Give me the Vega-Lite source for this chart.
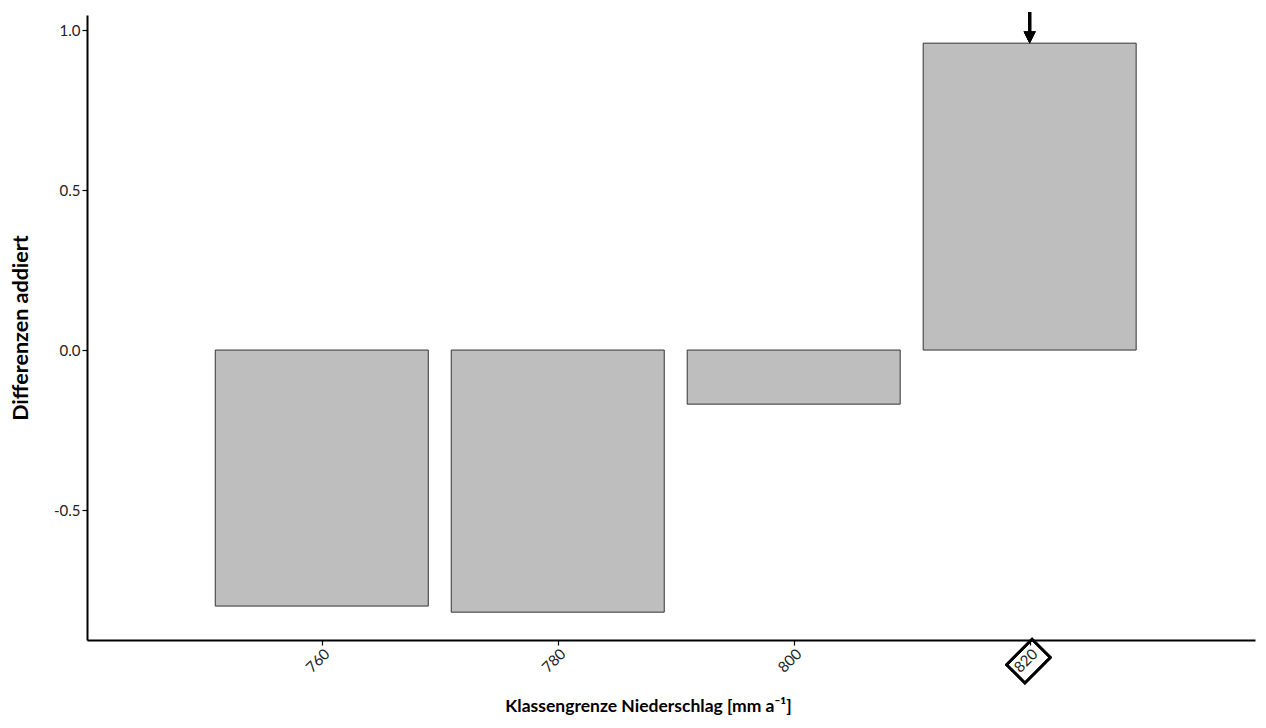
{
  "$schema": "https://vega.github.io/schema/vega-lite/v6.json",
  "width": 1168,
  "height": 625,
  "autosize": "none",
  "padding": {"left": 87, "top": 15, "right": 11, "bottom": 88},
  "background": "white",
  "config": {
    "view": {"stroke": null},
    "font": "Lato",
    "axis": {
      "domainColor": "black", "domainWidth": 2, "tickColor": "black", "tickWidth": 1.2, "tickSize": 5,
      "labelColor": "#222222", "labelFont": "Lato", "labelFontSize": 15, "grid": false,
      "titleFont": "Lato", "titleFontWeight": "bold", "titleColor": "black"
    }
  },
  "data": {"values": [
    {"grenze": 760, "diff": -0.80},
    {"grenze": 780, "diff": -0.819},
    {"grenze": 800, "diff": -0.169},
    {"grenze": 820, "diff": 0.959}
  ]},
  "layer": [
    {
      "mark": {"type": "bar", "width": 213, "fill": "#bebebe", "stroke": "#333333", "strokeWidth": 1},
      "encoding": {
        "x": {"field": "grenze", "type": "quantitative",
              "scale": {"domain": [740.1, 839.1], "nice": false, "zero": false, "padding": 0},
              "axis": {"values": [760, 780, 800, 820], "format": "d", "labelAngle": -45, "labelAlign": "right", "labelBaseline": "top", "labelPadding": 1,
                       "title": "Klassengrenze Niederschlag [mm a⁻¹]", "titleFontSize": 17.5, "titleX": 561, "titleY": 71, "titleBaseline": "alphabetic", "titleAnchor": null, "titleAlign": "center"}},
        "y": {"field": "diff", "type": "quantitative",
              "scale": {"domain": [-0.906, 1.047], "nice": false, "zero": false},
              "axis": {"values": [-0.5, 0, 0.5, 1], "labelExpr": "replace(format(datum.value, '.1f'), '−', '-')", "labelPadding": 2, "title": "Differenzen addiert", "titleFontSize": 21.5, "titlePadding": 21}}
      }
    },
    {
      "mark": {"type": "rule", "stroke": "black", "strokeWidth": 3, "clip": false},
      "encoding": {
        "x": {"datum": 820, "type": "quantitative"},
        "y": {"datum": 1.056, "type": "quantitative"},
        "y2": {"datum": 0.975}
      }
    },
    {
      "mark": {"type": "point", "shape": "M-1,-1L1,-1L0,1Z", "size": 144, "filled": true, "fill": "black", "stroke": null, "opacity": 1, "clip": false},
      "encoding": {
        "x": {"datum": 820, "type": "quantitative"},
        "y": {"datum": 0.9766, "type": "quantitative"}
      }
    },
    {
      "mark": {"type": "point", "shape": "M-1,-0.72L1,-0.72L1,0.72L-1,0.72Z", "size": 1296, "filled": false, "stroke": "black", "strokeWidth": 2.5, "angle": -45, "opacity": 1, "clip": false},
      "encoding": {
        "x": {"datum": 819.9, "type": "quantitative"},
        "y": {"datum": -0.972, "type": "quantitative"}
      }
    }
  ]
}
